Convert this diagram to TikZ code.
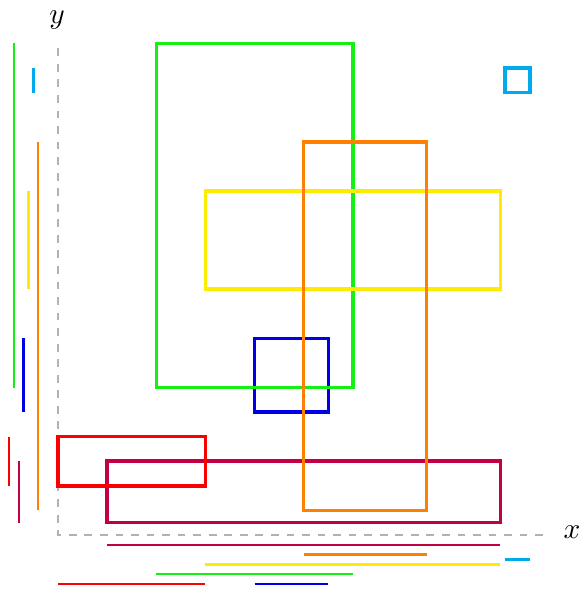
\documentclass[tikz,border=0pt]{standalone}
\usepackage{graphicx}
\begin{document}
\begin{tikzpicture}[x=1cm,y=1cm,
  rectbox/.style={line width=4pt},
  proj/.style={line width=2.6pt},
  axisline/.style={line width=1.5pt, draw=gray!60, dash pattern=on 9pt off 9pt},
  lbl/.style={inner sep=0pt}]
\definecolor{cgreen}{RGB}{20,240,20}
\definecolor{corange}{RGB}{255,128,0}
\definecolor{cyellow}{RGB}{255,235,0}
\definecolor{cblue}{RGB}{0,0,230}
\definecolor{cred}{RGB}{250,0,0}
\definecolor{ccrimson}{RGB}{195,0,70}
\definecolor{ccyan}{RGB}{0,170,235}
\useasboundingbox (-2.36,-2.2) rectangle (21.21,21.77);
% axes
\coordinate (O) at (0,0);
\coordinate (xe) at (19.8,0);
\coordinate (ye) at (0,19.8);
\draw[axisline] (ye) -- (O) -- (xe);
\node[lbl] (xl) at (20.92,0.12) {\scalebox{3.4}{$x$}};
\node[lbl] (yl) at (-0.04,20.95) {\scalebox{3.4}{$y$}};
% rectangles
\draw[rectbox, ccrimson] (2,0.5) rectangle (18,3);
\draw[rectbox, cred] (0,2) rectangle (6,4);
\draw[rectbox, cblue] (8,5) rectangle (11,8);
\draw[rectbox, cgreen] (4,6) rectangle (12,20);
\draw[rectbox, cyellow] (6,10) rectangle (18,14);
\draw[rectbox, corange] (10,1) rectangle (15,16);
\draw[rectbox, ccyan] (18.2,18) rectangle (19.2,19);
% projections on x
\draw[proj, ccrimson] (2,-0.4) -- (18,-0.4);
\draw[proj, corange] (10,-0.8) -- (15,-0.8);
\draw[proj, ccyan] (18.2,-1.0) -- (19.2,-1.0);
\draw[proj, cyellow] (6,-1.2) -- (18,-1.2);
\draw[proj, cgreen] (4,-1.6) -- (12,-1.6);
\draw[proj, cred] (0,-2.0) -- (6,-2.0);
\draw[proj, cblue] (8,-2.0) -- (11,-2.0);
% projections on y
\draw[proj, corange] (-0.8,1) -- (-0.8,16);
\draw[proj, ccyan] (-1.0,18) -- (-1.0,19);
\draw[proj, cyellow] (-1.2,10) -- (-1.2,14);
\draw[proj, cblue] (-1.4,5) -- (-1.4,8);
\draw[proj, ccrimson] (-1.6,0.5) -- (-1.6,3);
\draw[proj, cgreen] (-1.8,6) -- (-1.8,20);
\draw[proj, cred] (-2.0,2) -- (-2.0,4);
\end{tikzpicture}
\end{document}
